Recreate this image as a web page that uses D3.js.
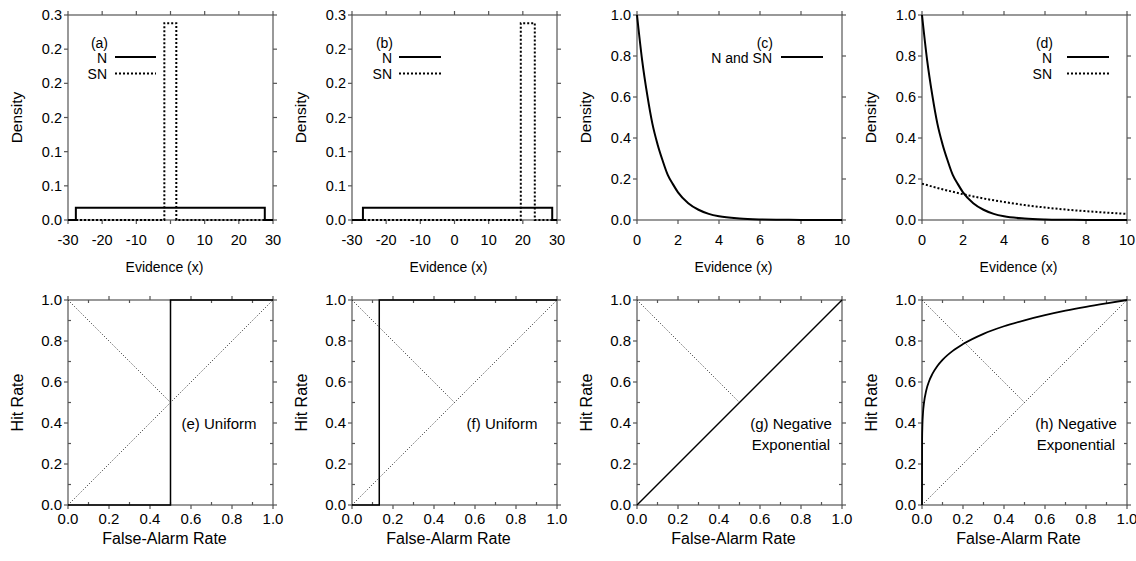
<!DOCTYPE html>
<html>
<head>
<meta charset="utf-8">
<script src="https://cdn.jsdelivr.net/npm/d3@7"></script>
<style>
  body { margin: 0; background: #fff; }
  svg text { font-family: "Liberation Sans", Arial, sans-serif; fill: #000; }
</style>
</head>
<body>
<svg id="chart" width="1136" height="561"></svg>
<script>
// ---- data ----
// (a) uniform, SN centred on 0
const aN = [[-30, 0], [-27.7, 0], [-27.7, 0.018], [27.6, 0.018], [27.6, 0], [30, 0]];
const aSN = [[-30, 0], [-1.8, 0], [-1.8, 0.288], [1.7, 0.288], [1.7, 0], [30, 0]];
// (b) uniform, SN shifted right
const bN = [[-30, 0], [-26.8, 0], [-26.8, 0.018], [28.6, 0.018], [28.6, 0], [30, 0]];
const bSN = [[-30, 0], [19.4, 0], [19.4, 0.288], [23.5, 0.288], [23.5, 0], [30, 0]];
// (c)/(d) negative exponential densities
const expX = [0, 0.25, 0.5, 0.75, 1, 1.25, 1.5, 1.75, 2, 2.5, 3, 3.5, 4, 5, 6, 7, 8, 9, 10];
const expN = [1, 0.78, 0.61, 0.47, 0.37, 0.29, 0.22, 0.175, 0.135, 0.082, 0.05, 0.03, 0.018, 0.007, 0.0025, 0.001, 0.0003, 0.0001, 0];
const snX = [0, 1, 2, 3, 4, 5, 6, 7, 8, 9, 10];
const snD = [0.177, 0.150, 0.126, 0.105, 0.088, 0.073, 0.061, 0.051, 0.043, 0.036, 0.030];
// ROC curves
const eROC = [[0, 0], [0.5, 0], [0.5, 1], [1, 1]];
const fROC = [[0, 0], [0.133, 0], [0.133, 1], [1, 1]];
const gROC = [[0, 0], [1, 1]];
const hFA = [0, 0.0005, 0.002, 0.005, 0.01, 0.02, 0.035, 0.05, 0.075, 0.1, 0.15, 0.2, 0.3, 0.4, 0.5, 0.6, 0.7, 0.8, 0.9, 1];
const hHR = [0, 0.32, 0.39, 0.45, 0.50, 0.556, 0.605, 0.638, 0.678, 0.708, 0.752, 0.785, 0.835, 0.872, 0.901, 0.926, 0.948, 0.967, 0.984, 1];
const chance = [[0, 0], [1, 1]];
const negDiag = [[0, 1], [0.5, 0.5]];

// ticks
const unifXTicks = [-30, -20, -10, 0, 10, 20, 30];
const unifYTicks = [0, 0.05, 0.1, 0.15, 0.2, 0.25, 0.3];
const unifYLabels = ['0.0', '0.1', '0.1', '0.2', '0.2', '0.2', '0.3'];
const expXTicks = [0, 2, 4, 6, 8, 10];
const unitTicks = [0, 0.2, 0.4, 0.6, 0.8, 1.0];
const unitLabels = ['0.0', '0.2', '0.4', '0.6', '0.8', '1.0'];
const unitMinor = [0.1, 0.3, 0.5, 0.7, 0.9];

const svg = d3.select('#chart');
const lefts = [68, 352, 637, 922];
const size = 205;
const topY = 15, botY = 300;

function drawFrame(g, x, y, opt) {
  const w = size, h = size;
  // border
  g.append('rect').attr('width', w).attr('height', h)
    .attr('fill', 'none').attr('stroke', '#555').attr('stroke-width', 1.2);
  const tk = g.append('g').attr('stroke', '#555').attr('stroke-width', 1.2);
  opt.xTicks.forEach(v => {
    tk.append('line').attr('x1', x(v)).attr('x2', x(v)).attr('y1', h).attr('y2', h + 4);
    tk.append('line').attr('x1', x(v)).attr('x2', x(v)).attr('y1', 0).attr('y2', -4);
  });
  opt.yTicks.forEach(v => {
    tk.append('line').attr('y1', y(v)).attr('y2', y(v)).attr('x1', 0).attr('x2', -4);
    tk.append('line').attr('y1', y(v)).attr('y2', y(v)).attr('x1', w).attr('x2', w + 4);
  });
  (opt.minor || []).forEach(v => {
    tk.append('line').attr('x1', x(v)).attr('x2', x(v)).attr('y1', h).attr('y2', h - 3);
    tk.append('line').attr('x1', x(v)).attr('x2', x(v)).attr('y1', 0).attr('y2', 3);
    tk.append('line').attr('y1', y(v)).attr('y2', y(v)).attr('x1', 0).attr('x2', 3);
    tk.append('line').attr('y1', y(v)).attr('y2', y(v)).attr('x1', w).attr('x2', w - 3);
  });
  opt.xTicks.forEach((v, i) => {
    g.append('text').attr('x', x(v)).attr('y', h + opt.xLabOff).attr('dy', '0.35em')
      .attr('text-anchor', 'middle').style('font-size', opt.tickFont + 'px').text(opt.xLabels[i]);
  });
  opt.yTicks.forEach((v, i) => {
    g.append('text').attr('x', -6).attr('y', y(v)).attr('dy', '0.35em')
      .attr('text-anchor', 'end').style('font-size', opt.tickFont + 'px').text(opt.yLabels[i]);
  });
  g.append('text').attr('x', w / 2 - 6).attr('y', h + opt.xTitleOff).attr('dy', '0.35em')
    .attr('text-anchor', 'middle').style('font-size', opt.xTitleFont + 'px').text(opt.xTitle);
  g.append('text').attr('transform', `translate(-51,${h / 2}) rotate(-90)`).attr('dy', '0.35em')
    .attr('text-anchor', 'middle').style('font-size', opt.yTitleFont + 'px').text(opt.yTitle);
}

function path(g, pts, x, y, style, curve) {
  const line = d3.line().x(d => x(d[0])).y(d => y(d[1])).curve(curve || d3.curveLinear);
  const p = g.append('path').datum(pts).attr('d', line).attr('fill', 'none')
    .attr('stroke', style.color || '#000').attr('stroke-width', style.width);
  if (style.dash) p.attr('stroke-dasharray', style.dash);
  return p;
}

const solidTop = { width: 2 };
const dotTop = { width: 2, dash: '2,2' };
const solidBot = { width: 1.5 };
const dotBot = { width: 1, dash: '1,2', color: '#222' };

function legend(g, title, items, textRight, lineX1, lineX2) {
  g.append('text').attr('x', textRight + 1).attr('y', 28).attr('dy', '0.35em')
    .attr('text-anchor', 'end').style('font-size', '14px').text(title);
  items.forEach((it, i) => {
    const yy = 43 + i * 16.5;
    g.append('text').attr('x', textRight).attr('y', yy).attr('dy', '0.35em')
      .attr('text-anchor', 'end').style('font-size', '14px').text(it.label);
    const l = g.append('line').attr('x1', lineX1).attr('x2', lineX2).attr('y1', yy - 1).attr('y2', yy - 1)
      .attr('stroke', '#000').attr('stroke-width', 2);
    if (it.dash) l.attr('stroke-dasharray', it.dash);
  });
}

// ---- top row ----
const unifX = d3.scaleLinear().domain([-30, 30]).range([0, size]);
const unifY = d3.scaleLinear().domain([0, 0.3]).range([size, 0]);
const expXs = d3.scaleLinear().domain([0, 10]).range([0, size]);
const unitY = d3.scaleLinear().domain([0, 1]).range([size, 0]);
const unitX = d3.scaleLinear().domain([0, 1]).range([0, size]);

const topOpt = { xLabOff: 20, xTitleOff: 47, xTitle: 'Evidence (x)', yTitle: 'Density',
  tickFont: 14.5, xTitleFont: 14, yTitleFont: 15.5 };
const unifOpt = Object.assign({}, topOpt, { xTicks: unifXTicks, xLabels: unifXTicks.map(String), yTicks: unifYTicks, yLabels: unifYLabels });
const expOpt = Object.assign({}, topOpt, { xTicks: expXTicks, xLabels: expXTicks.map(String), yTicks: unitTicks, yLabels: unitLabels });

// (a)
let g = svg.append('g').attr('transform', `translate(${lefts[0]},${topY})`);
drawFrame(g, unifX, unifY, unifOpt);
path(g, aSN, unifX, unifY, dotTop);
path(g, aN, unifX, unifY, solidTop);
legend(g, '(a)', [{ label: 'N' }, { label: 'SN', dash: '2,2' }], 39, 47, 88);

// (b)
g = svg.append('g').attr('transform', `translate(${lefts[1]},${topY})`);
drawFrame(g, unifX, unifY, unifOpt);
path(g, bSN, unifX, unifY, dotTop);
path(g, bN, unifX, unifY, solidTop);
legend(g, '(b)', [{ label: 'N' }, { label: 'SN', dash: '2,2' }], 40, 47, 89);

// (c)
const expPts = expX.map((v, i) => [v, expN[i]]);
g = svg.append('g').attr('transform', `translate(${lefts[2]},${topY})`);
drawFrame(g, expXs, unitY, expOpt);
path(g, expPts, expXs, unitY, solidTop, d3.curveMonotoneX);
legend(g, '(c)', [{ label: 'N and SN' }], size - 70, size - 61, size - 19);

// (d)
g = svg.append('g').attr('transform', `translate(${lefts[3]},${topY})`);
drawFrame(g, expXs, unitY, expOpt);
path(g, snX.map((v, i) => [v, snD[i]]), expXs, unitY, dotTop, d3.curveMonotoneX);
path(g, expPts, expXs, unitY, solidTop, d3.curveMonotoneX);
legend(g, '(d)', [{ label: 'N' }, { label: 'SN', dash: '2,2' }], size - 75, size - 60, size - 18);

// ---- bottom row ----
const rocOpt = { xLabOff: 14, xTitleOff: 33, xTitle: 'False-Alarm Rate', yTitle: 'Hit Rate',
  tickFont: 15, xTitleFont: 16, yTitleFont: 16,
  xTicks: unitTicks, xLabels: unitLabels, yTicks: unitTicks, yLabels: unitLabels, minor: unitMinor };

function rocLabel(g, lines, cx) {
  lines.forEach((t, i) => {
    g.append('text').attr('x', cx).attr('y', 124 + i * 21).attr('dy', '0.35em')
      .attr('text-anchor', 'middle').style('font-size', '15px').text(t);
  });
}

const rocs = [
  { roc: eROC, label: ['(e) Uniform'], cx: size - 54 },
  { roc: fROC, label: ['(f) Uniform'], cx: size - 55 },
  { roc: gROC, label: ['(g) Negative', 'Exponential'], cx: size - 51 },
  { roc: hFA.map((v, i) => [v, hHR[i]]), label: ['(h) Negative', 'Exponential'], cx: size - 51, curve: d3.curveMonotoneX }
];

rocs.forEach((r, i) => {
  const gg = svg.append('g').attr('transform', `translate(${lefts[i]},${botY})`);
  drawFrame(gg, unitX, unitY, rocOpt);
  path(gg, chance, unitX, unitY, dotBot);
  path(gg, negDiag, unitX, unitY, dotBot);
  path(gg, r.roc, unitX, unitY, i === 3 ? { width: 1.8 } : solidBot, r.curve);
  rocLabel(gg, r.label, r.cx);
});
</script>
</body>
</html>
